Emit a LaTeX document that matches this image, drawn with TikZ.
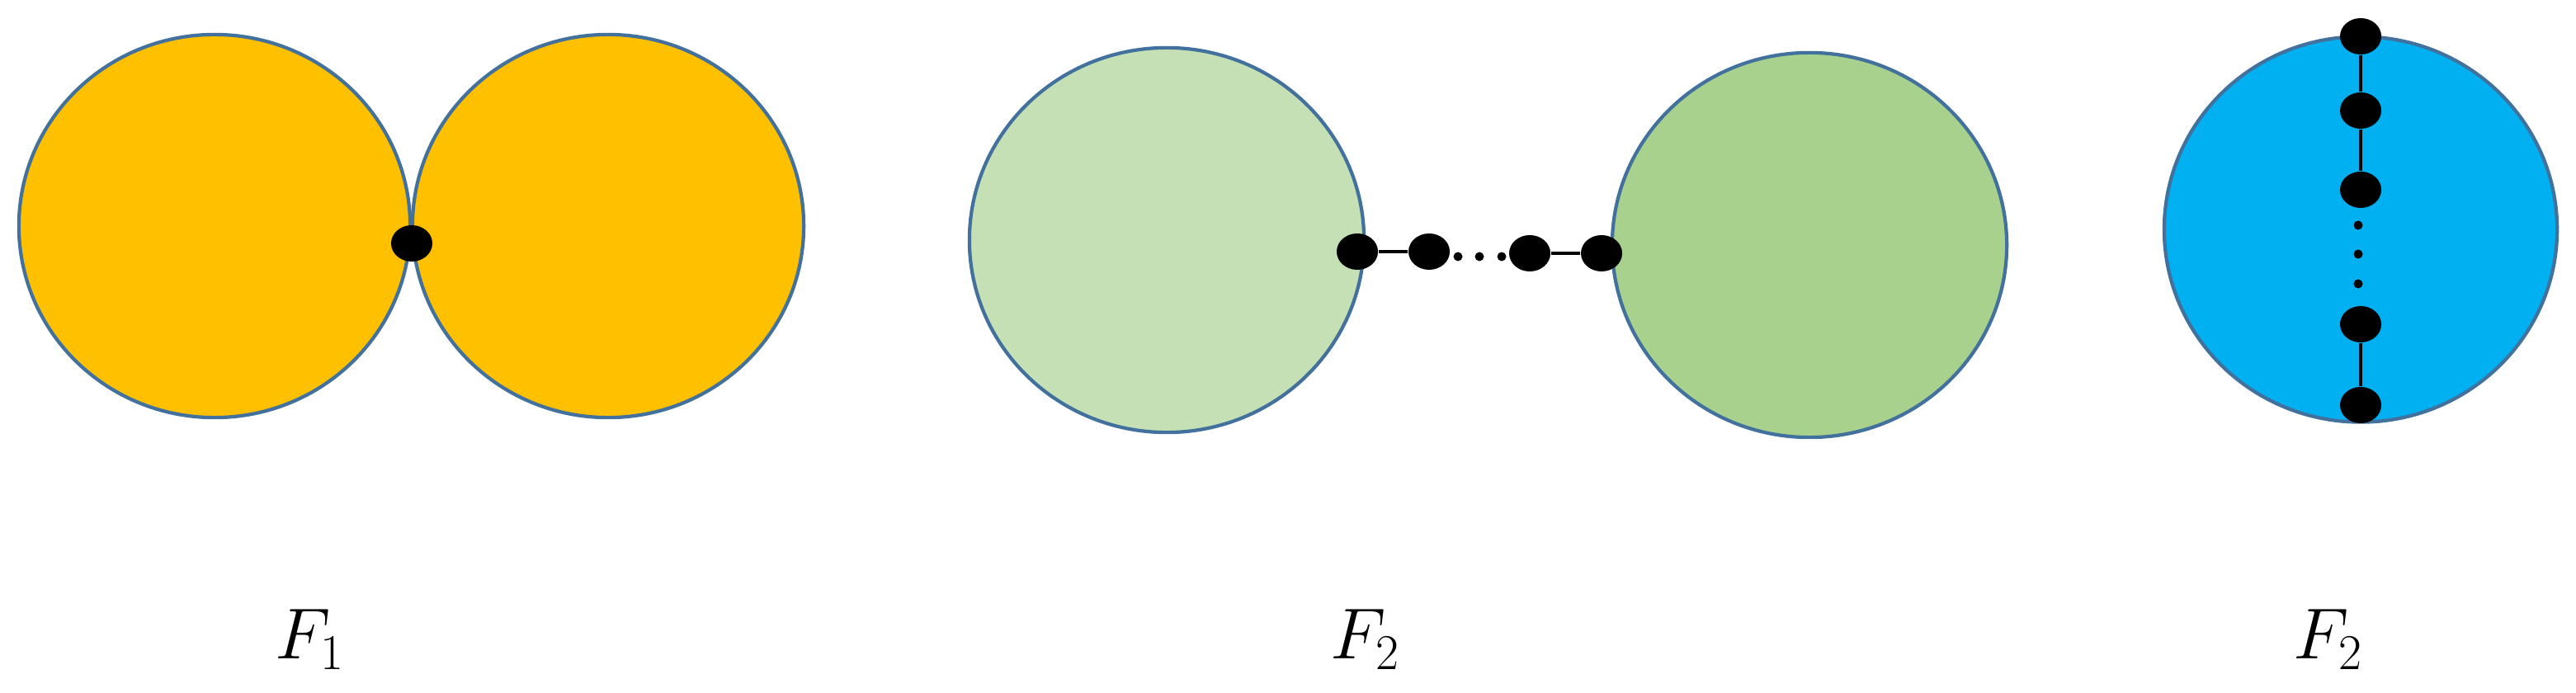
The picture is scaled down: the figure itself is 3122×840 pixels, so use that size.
\documentclass[tikz,border=0pt]{standalone}
\usetikzlibrary{shapes.geometric}
\definecolor{outl}{HTML}{41719C}
\definecolor{gold}{HTML}{FFC000}
\definecolor{lgreen}{HTML}{C5E0B4}
\definecolor{mgreen}{HTML}{A9D18E}
\definecolor{sky}{HTML}{00B0F0}
\begin{document}
\begin{tikzpicture}[x=0.01cm,y=-0.01cm,
  blob/.style={ellipse, draw=outl, line width=1.2pt, inner sep=0pt},
  vtx/.style={ellipse, fill=black, inner sep=0pt, minimum width=0.5cm, minimum height=0.44cm},
  tinydot/.style={circle, fill=black, inner sep=0pt, minimum size=0.11cm},
  edgeline/.style={line width=0.9pt},
  lab/.style={anchor=base, inner sep=0pt, font=\fontsize{26}{30}\selectfont}]
\useasboundingbox (0,0) rectangle (3122,840);

% F1
\node[blob, fill=gold, minimum width=4.74cm, minimum height=4.64cm] (y1) at (260,274) {};
\node[blob, fill=gold, minimum width=4.74cm, minimum height=4.64cm] (y2) at (737,274) {};
\node[vtx] (a0) at (499,295) {};

% F2 middle
\node[blob, fill=lgreen, minimum width=4.78cm, minimum height=4.66cm] (g1) at (1414,291) {};
\node[blob, fill=mgreen, minimum width=4.78cm, minimum height=4.66cm] (g2) at (2193,297) {};
\node[vtx] (b1) at (1645,305) {};
\node[vtx] (b2) at (1732,305) {};
\node[tinydot] (bt1) at (1767,311) {};
\node[tinydot] (bt2) at (1793,311) {};
\node[tinydot] (bt3) at (1820,311) {};
\node[vtx] (b3) at (1854,307) {};
\node[vtx] (b4) at (1941,307) {};
\draw[edgeline] (b1) -- (b2);
\draw[edgeline] (b3) -- (b4);

% F2 right
\node[blob, fill=sky, minimum width=4.76cm, minimum height=4.67cm] (c0) at (2861,278) {};
\node[vtx] (c1) at (2861,44) {};
\node[vtx] (c2) at (2861,134) {};
\node[vtx] (c3) at (2861,230) {};
\node[tinydot] (ct1) at (2858,273) {};
\node[tinydot] (ct2) at (2858,308) {};
\node[tinydot] (ct3) at (2858,344) {};
\node[vtx] (c4) at (2861,393) {};
\node[vtx] (c5) at (2861,491) {};
\draw[edgeline] (c1) -- (c2);
\draw[edgeline] (c2) -- (c3);
\draw[edgeline] (c4) -- (c5);

% labels
\node[lab] (l1) at (376,798) {$F_1$};
\node[lab] (l2) at (1655,798) {$F_2$};
\node[lab] (l3) at (2822,798) {$F_2$};
\end{tikzpicture}
\end{document}
